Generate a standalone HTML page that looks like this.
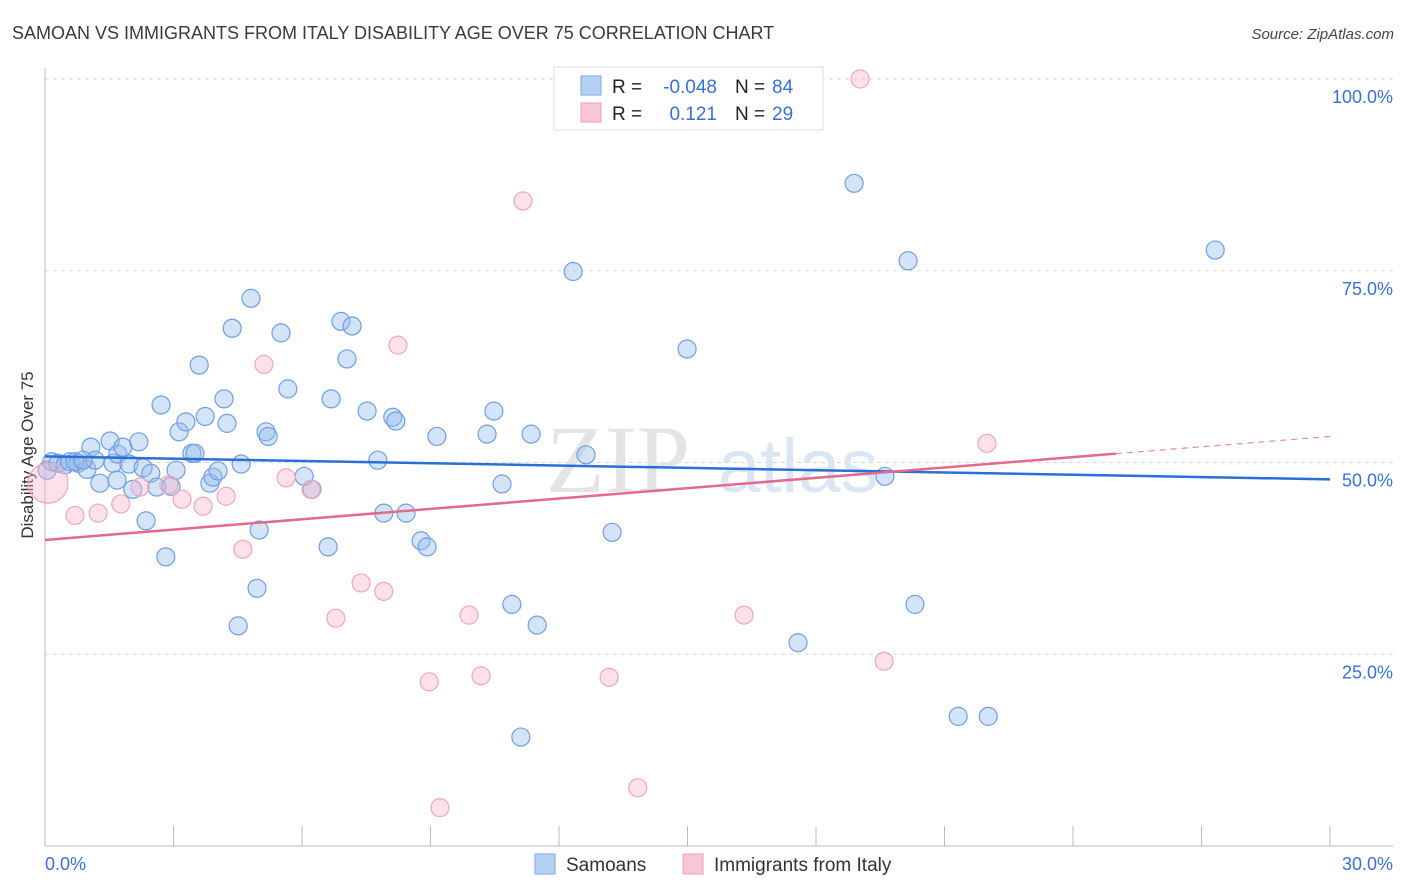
<!DOCTYPE html>
<html><head><meta charset="utf-8"><style>
body{margin:0;background:#fff;font-family:"Liberation Sans",sans-serif;}
svg{display:block}
</style></head><body>
<svg id="chart" width="1406" height="892">
<text x="12" y="39" font-size="18" fill="#3a3a3a">SAMOAN VS IMMIGRANTS FROM ITALY DISABILITY AGE OVER 75 CORRELATION CHART</text>
<text x="1394" y="39" font-size="15" font-style="italic" fill="#444" text-anchor="end">Source: ZipAtlas.com</text>
<text x="33" y="455" font-size="17" fill="#333" text-anchor="middle" transform="rotate(-90 33 455)">Disability Age Over 75</text>
<g id="grid"></g>
<text x="690" y="492" font-size="96" font-family="Liberation Serif,serif" fill="#e4e4e4" text-anchor="end">ZIP</text>
<text x="718" y="492" font-size="76" fill="#dbe6f5">atlas</text>
<g id="marks"></g>
<g id="lines"></g>
<g>
<rect x="554" y="67" width="269" height="63" fill="#fff" stroke="#ddd"/>
<rect x="581" y="76" width="20" height="19" fill="#b7d1f5" stroke="#7aa6e6"/>
<rect x="581" y="103" width="20" height="19" fill="#f9c6d5" stroke="#ef9db7"/>
<text x="612" y="93" font-size="19" fill="#222">R = </text><text x="717" y="93" font-size="19" fill="#3a70d6" text-anchor="end">-0.048</text>
<text x="735" y="93" font-size="19" fill="#222">N = </text><text x="772" y="93" font-size="19" fill="#3a70d6">84</text>
<text x="612" y="120" font-size="19" fill="#222">R = </text><text x="717" y="120" font-size="19" fill="#3a70d6" text-anchor="end">0.121</text>
<text x="735" y="120" font-size="19" fill="#222">N = </text><text x="772" y="120" font-size="19" fill="#3a70d6">29</text>
</g>
<g>
<rect x="535" y="854" width="20" height="20" fill="#b7d1f5" stroke="#7aa6e6"/>
<text x="566" y="871" font-size="19" fill="#333">Samoans</text>
<rect x="683" y="854" width="20" height="20" fill="#f9c6d5" stroke="#ef9db7"/>
<text x="714" y="871" font-size="19" fill="#333">Immigrants from Italy</text>
</g>
</svg>
<script>
const xTickLabels=["0.0%","30.0%"];
const yTicks=[25,50,75,100];
const yTickLabels=["25.0%","50.0%","75.0%","100.0%"];
const blueX=[0.05,0.16,0.30,0.47,0.58,0.77,0.98,1.07,1.17,1.28,1.52,1.59,1.70,1.82,1.96,2.05,2.19,2.29,2.36,2.47,2.61,2.71,2.82,2.94,3.06,3.13,3.29,3.43,3.50,3.60,3.74,3.85,3.92,4.04,4.18,4.25,4.37,4.58,4.81,4.95,5.00,4.51,5.16,5.21,5.51,5.67,6.05,6.23,6.61,6.68,6.91,7.05,7.17,7.52,7.77,7.91,8.12,8.19,8.43,8.78,8.92,9.15,10.32,10.48,10.67,10.90,11.11,11.35,11.49,12.33,12.63,13.24,14.99,17.58,18.89,19.61,20.15,20.31,21.32,22.02,27.32,0.70,0.89,1.68];
const blueY=[49.0,50.1,49.9,49.7,50.1,49.9,49.1,52.0,50.3,47.3,52.8,49.9,51.1,52.0,49.8,46.5,52.7,49.3,42.4,48.6,46.8,57.5,37.7,46.9,49.0,54.0,55.3,51.2,51.2,62.7,56.0,47.3,48.1,48.9,58.3,55.1,67.5,49.8,71.4,33.6,41.2,28.7,54.0,53.4,66.9,59.6,48.2,46.5,39.0,58.3,68.4,63.5,67.8,56.7,50.3,43.4,55.9,55.4,43.4,39.8,39.0,53.4,53.7,56.7,47.2,31.5,14.2,53.7,28.8,74.9,51.0,40.9,64.8,26.5,86.4,48.2,76.3,31.5,16.9,16.9,77.7,50.1,50.3,47.7];
const pinkX=[0.07,0.70,1.24,1.77,2.22,2.89,3.20,3.69,4.23,4.62,5.11,5.63,6.21,6.79,7.38,7.91,8.24,8.97,9.22,9.90,10.18,11.16,13.17,13.84,16.32,19.03,19.59,21.99,16.88];
const pinkY=[47.3,43.1,43.4,44.6,46.8,47.1,45.2,44.3,45.6,38.7,62.8,48.0,46.5,29.7,34.3,33.2,65.3,21.4,5.0,30.1,22.2,84.1,22.0,7.6,30.1,100.0,24.1,52.5,100.0];
const blueTrend=[50.8,47.8];
const pinkTrend=[39.9,53.4];
const pinkSolidEnd=25.0;

const X0=45,X1=1330,Y0=846,Y100=79;
const sx=v=>X0+(X1-X0)*v/30;
const sy=v=>Y0-(Y0-Y100)*v/100;
const NS="http://www.w3.org/2000/svg";
function mk(tag,attrs,parent){const e=document.createElementNS(NS,tag);for(const k in attrs)e.setAttribute(k,attrs[k]);parent.appendChild(e);return e;}
const grid=document.getElementById('grid');
yTicks.forEach((t,i)=>{
 const g=mk('line',{x1:X0,x2:1393,y1:sy(t),y2:sy(t),stroke:'#d8d8d8','stroke-dasharray':'4,4'},grid);
 
 
 const l=mk('text',{x:1393,y:sy(t)+24,'font-size':18,fill:'#3a70d6','text-anchor':'end'},grid);
 l.textContent=yTickLabels[i];
 
 
});
const ax=mk('line',{x1:X0,x2:X0,y1:68,y2:Y0,stroke:'#bbb'},grid);


const bx=mk('line',{x1:X0,x2:1393,y1:Y0,y2:Y0,stroke:'#bbb'},grid);


for(let i=0;i<=10;i++){
 const t=mk('line',{x1:sx(i*3),x2:sx(i*3),y1:826,y2:Y0,stroke:'#bbb'},grid);
 
 
}
const xl0=mk('text',{x:45,y:870,'font-size':18,fill:'#3a70d6'},grid);xl0.textContent=xTickLabels[0];


const xl1=mk('text',{x:1393,y:870,'font-size':18,fill:'#3a70d6','text-anchor':'end'},grid);xl1.textContent=xTickLabels[1];


const marks=document.getElementById('marks');
blueX.forEach((v,i)=>{
 const c=mk('circle',{cx:sx(v),cy:sy(blueY[i]),r:9,fill:'rgba(150,188,238,0.42)',stroke:'#6f9fe2','stroke-width':1.2},marks);
 
 
});
pinkX.forEach((v,i)=>{
 const c=mk('circle',{cx:sx(v),cy:sy(pinkY[i]),r:i===0?20:9,fill:'rgba(246,176,200,0.38)',stroke:'#f0a6bf','stroke-width':1.2},marks);
 
 
});
const lines=document.getElementById('lines');
const bl=mk('line',{x1:sx(0),y1:sy(blueTrend[0]),x2:sx(30),y2:sy(blueTrend[1]),stroke:'#2a6fd6','stroke-width':2.5},lines);


const pAt=x=>pinkTrend[0]+(pinkTrend[1]-pinkTrend[0])*x/30;
const pl=mk('line',{x1:sx(0),y1:sy(pAt(0)),x2:sx(pinkSolidEnd),y2:sy(pAt(pinkSolidEnd)),stroke:'#e5688f','stroke-width':2.5},lines);


const pd=mk('line',{x1:sx(pinkSolidEnd),y1:sy(pAt(pinkSolidEnd)),x2:sx(30),y2:sy(pAt(30)),stroke:'#e5889f','stroke-width':1.2,'stroke-dasharray':'6,5'},lines);


</script>
</body></html>
